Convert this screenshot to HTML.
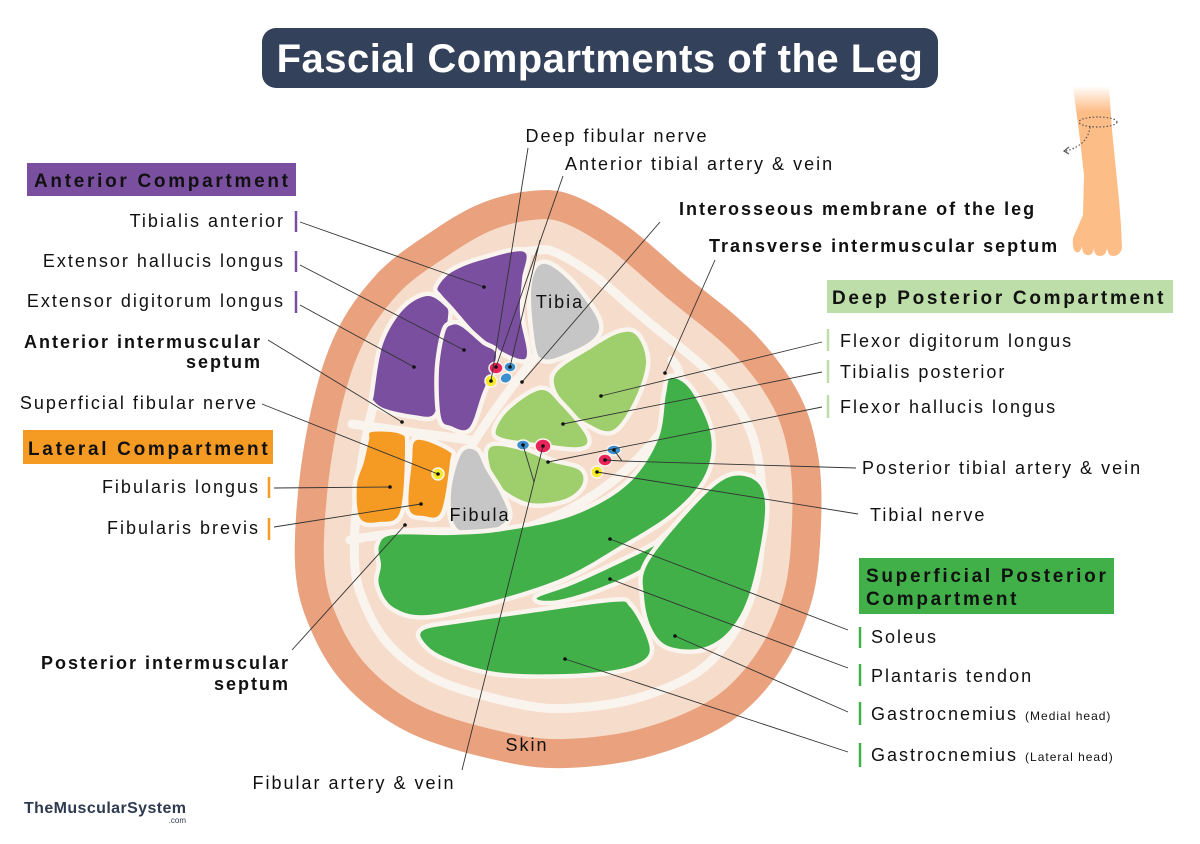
<!DOCTYPE html>
<html><head><meta charset="utf-8"><style>
html,body{margin:0;padding:0;background:#fff;}
svg{display:block;}
text{font-family:"Liberation Sans",Arial,sans-serif;}
.l{font-size:18px;letter-spacing:2px;fill:#111;}
.b{font-size:18px;letter-spacing:2px;font-weight:bold;fill:#111;}
.h{font-size:19px;letter-spacing:2.7px;font-weight:bold;fill:#111;}
.ln{stroke:#333;stroke-width:0.9;fill:none;}
</style></head><body>
<svg id="s" width="1200" height="844" viewBox="0 0 1200 844" xmlns="http://www.w3.org/2000/svg">
<defs>
<clipPath id="cp"><path id="skinclip"/></clipPath>
<linearGradient id="lg" x1="0" y1="0" x2="0" y2="1"><stop offset="0" stop-color="#FDBD87" stop-opacity="0"/><stop offset="0.15" stop-color="#FDBD87"/><stop offset="1" stop-color="#FDBD87"/></linearGradient>
</defs>
<rect x="262" y="28" width="676" height="60" rx="14" fill="#33425A"/>
<text x="600" y="72" text-anchor="middle" style="font-size:40px;font-weight:bold;fill:#fff;letter-spacing:0.5px">Fascial Compartments of the Leg</text>

<g clip-path="url(#cp)">
  <path class="skin" fill="#F6DCCB"/>
  <path class="skin" fill="none" stroke="#FAF4EE" stroke-width="128"/>
  <path class="skin" fill="none" stroke="#F6DCCB" stroke-width="110"/>
  <path class="skin" fill="none" stroke="#E9A17E" stroke-width="58"/>
</g>
<g id="septa" stroke="#FAF4EE" stroke-width="9" fill="none" stroke-linecap="round">
  <path d="M352,424 Q410,432 470,440"/>
  <path d="M350,540 Q400,530 452,532"/>
  <path d="M536,356 Q500,400 470,448"/>
  <path d="M470,542 Q600,520 670,420 Q690,380 672,360"/>
  <path d="M540,600 Q620,560 680,560"/>
</g>
<g id="muscles" stroke="#FAF4EE" stroke-width="9" stroke-linejoin="round"></g>

<g stroke="#FAF4EE" stroke-width="1.5">
<ellipse cx="496" cy="368" rx="7" ry="6" fill="#E8245A"/>
<ellipse cx="510" cy="367" rx="6" ry="5" fill="#3A8FD0"/>
<circle cx="491" cy="381" r="6" fill="#F6EA2A"/>
<ellipse cx="506" cy="378" rx="6" ry="5" fill="#3A8FD0" transform="rotate(-25 506 378)"/>
<ellipse cx="523" cy="445" rx="6.5" ry="5" fill="#3A8FD0"/>
<ellipse cx="543" cy="446" rx="8" ry="7" fill="#E8245A"/>
<ellipse cx="614" cy="450" rx="7" ry="5" fill="#3A8FD0"/>
<ellipse cx="605" cy="460" rx="7" ry="6" fill="#E8245A"/>
<circle cx="597" cy="472" r="6" fill="#F6EA2A"/>
<circle cx="438" cy="474" r="6" fill="#F6EA2A"/>
</g>

<text x="560" y="308" text-anchor="middle" class="l">Tibia</text>
<text x="480" y="521" text-anchor="middle" class="l">Fibula</text>
<text x="527" y="751" text-anchor="middle" class="l">Skin</text>

<g class="ln">
<path d="M300,222 L484,287"/>
<path d="M300,265 L464,350"/>
<path d="M300,305 L414,367"/>
<path d="M268,340 L402,422"/>
<path d="M262,404 L438,474"/>
<path d="M274,488 L390,487"/>
<path d="M274,527 L421,504"/>
<path d="M292,650 L405,525"/>
<path d="M462,770 L534,482 L543,446 M534,482 L523,445"/>
<path d="M528,148 L491,381"/>
<path d="M563,176 L496,367 M540,240 L510,367"/>
<path d="M660,222 L522,382"/>
<path d="M715,260 L665,373"/>
<path d="M822,342 L601,396"/>
<path d="M822,372 L563,424"/>
<path d="M822,407 L548,462"/>
<path d="M856,468 L622,461 L614,450 M622,461 L605,460"/>
<path d="M858,514 L597,472"/>
<path d="M848,630 L610,539"/>
<path d="M848,668 L610,579"/>
<path d="M848,712 L675,636"/>
<path d="M848,752 L565,659"/>
</g>
<g fill="#111">
<circle cx="484" cy="287" r="1.8"/><circle cx="464" cy="350" r="1.8"/><circle cx="414" cy="367" r="1.8"/>
<circle cx="402" cy="422" r="1.8"/><circle cx="438" cy="474" r="1.8"/><circle cx="390" cy="487" r="1.8"/>
<circle cx="421" cy="504" r="1.8"/><circle cx="405" cy="525" r="1.8"/><circle cx="543" cy="446" r="1.8"/>
<circle cx="523" cy="445" r="1.8"/><circle cx="491" cy="381" r="1.8"/><circle cx="496" cy="367" r="1.8"/>
<circle cx="510" cy="367" r="1.8"/><circle cx="522" cy="382" r="1.8"/><circle cx="665" cy="373" r="1.8"/>
<circle cx="601" cy="396" r="1.8"/><circle cx="563" cy="424" r="1.8"/><circle cx="548" cy="462" r="1.8"/>
<circle cx="614" cy="450" r="1.8"/><circle cx="605" cy="460" r="1.8"/><circle cx="597" cy="472" r="1.8"/>
<circle cx="610" cy="539" r="1.8"/><circle cx="610" cy="579" r="1.8"/><circle cx="675" cy="636" r="1.8"/>
<circle cx="565" cy="659" r="1.8"/>
</g>

<rect x="27" y="163" width="269" height="33" fill="#7A4F9F"/>
<text x="34" y="187" class="h">Anterior Compartment</text>
<rect x="23" y="430" width="250" height="34" fill="#F59B23"/>
<text x="28" y="455" class="h">Lateral Compartment</text>
<rect x="827" y="280" width="346" height="33" fill="#BDDDA9"/>
<text x="832" y="304" class="h">Deep Posterior Compartment</text>
<rect x="859" y="558" width="255" height="56" fill="#41B049"/>
<text x="866" y="582" class="h">Superficial Posterior</text>
<text x="866" y="605" class="h">Compartment</text>

<g stroke-width="2.5">
<line x1="296" y1="211" x2="296" y2="232" stroke="#7A4F9F"/>
<line x1="296" y1="251" x2="296" y2="272" stroke="#7A4F9F"/>
<line x1="296" y1="291" x2="296" y2="313" stroke="#7A4F9F"/>
<line x1="269" y1="477" x2="269" y2="498" stroke="#F59B23"/>
<line x1="269" y1="518" x2="269" y2="540" stroke="#F59B23"/>
<line x1="828" y1="329" x2="828" y2="351" stroke="#BDDDA9"/>
<line x1="828" y1="360" x2="828" y2="383" stroke="#BDDDA9"/>
<line x1="828" y1="395" x2="828" y2="418" stroke="#BDDDA9"/>
<line x1="860" y1="627" x2="860" y2="648" stroke="#41B049"/>
<line x1="860" y1="664" x2="860" y2="686" stroke="#41B049"/>
<line x1="860" y1="702" x2="860" y2="725" stroke="#41B049"/>
<line x1="860" y1="743" x2="860" y2="767" stroke="#41B049"/>
</g>

<g text-anchor="end">
<text x="285" y="227" class="l">Tibialis anterior</text>
<text x="285" y="267" class="l">Extensor hallucis longus</text>
<text x="285" y="307" class="l">Extensor digitorum longus</text>
<text x="262" y="348" class="b">Anterior intermuscular</text>
<text x="262" y="368" class="b">septum</text>
<text x="258" y="409" class="l">Superficial fibular nerve</text>
<text x="260" y="493" class="l">Fibularis longus</text>
<text x="260" y="534" class="l">Fibularis brevis</text>
<text x="290" y="669" class="b">Posterior intermuscular</text>
<text x="290" y="690" class="b">septum</text>
</g>
<text x="617" y="142" text-anchor="middle" class="l">Deep fibular nerve</text>
<text x="565" y="170" class="l">Anterior tibial artery &amp; vein</text>
<text x="679" y="215" class="b">Interosseous membrane of the leg</text>
<text x="709" y="252" class="b">Transverse intermuscular septum</text>
<text x="840" y="347" class="l">Flexor digitorum longus</text>
<text x="840" y="378" class="l">Tibialis posterior</text>
<text x="840" y="413" class="l">Flexor hallucis longus</text>
<text x="862" y="474" class="l">Posterior tibial artery &amp; vein</text>
<text x="870" y="521" class="l">Tibial nerve</text>
<text x="871" y="643" class="l">Soleus</text>
<text x="871" y="682" class="l">Plantaris tendon</text>
<text x="871" y="720" class="l">Gastrocnemius <tspan style="font-size:12px;letter-spacing:1px">(Medial head)</tspan></text>
<text x="871" y="761" class="l">Gastrocnemius <tspan style="font-size:12px;letter-spacing:1px">(Lateral head)</tspan></text>
<text x="354" y="789" text-anchor="middle" class="l">Fibular artery &amp; vein</text>

<text x="24" y="813" style="font-size:16px;font-weight:bold;fill:#2E3A50;letter-spacing:0.4px">TheMuscularSystem</text>
<text x="186" y="823" text-anchor="end" style="font-size:8px;fill:#2E3A50">.com</text>

<path d="M1073,86 L1109,86 L1112,130 L1116,170 L1119,200 L1121,225 L1122,248 Q1120,256 1113,256 Q1108,256 1107,248 Q1106,256 1100,256 Q1094,256 1094,248 Q1093,256 1087,255 Q1082,254 1082,246 Q1080,254 1076,252 Q1072,250 1073,238 L1083,215 L1084,175 L1080,140 Z" fill="url(#lg)"/>
<ellipse cx="1098" cy="122" rx="19" ry="5" fill="none" stroke="#555" stroke-width="1.2" stroke-dasharray="1.5 2"/>
<path d="M1090,127 Q1088,145 1066,151" fill="none" stroke="#555" stroke-width="1.2" stroke-dasharray="1.5 2"/>
<path d="M1069,147 L1064,151 L1069,154" fill="none" stroke="#555" stroke-width="1.2"/>
</svg>
<script>
function sm(p){var n=p.length,d="M"+p[0][0]+","+p[0][1];for(var i=0;i<n;i++){var a=p[(i-1+n)%n],b=p[i],c=p[(i+1)%n],e=p[(i+2)%n];
d+=" C"+(b[0]+(c[0]-a[0])/6).toFixed(1)+","+(b[1]+(c[1]-a[1])/6).toFixed(1)+" "+(c[0]-(e[0]-b[0])/6).toFixed(1)+","+(c[1]-(e[1]-b[1])/6).toFixed(1)+" "+c[0]+","+c[1];}return d+"Z";}
var skin=[[295,562],[304,447],[331,344],[376,275],[434,230],[482,203],[531,191],[572,195],[627,226],[685,275],[754,333],[799,394],[818,455],[821,523],[812,600],[781,669],[730,722],[651,756],[565,768],[496,760],[410,733],[348,688],[311,630]];
var sd=sm(skin);document.getElementById("skinclip").setAttribute("d",sd);
document.querySelectorAll(".skin").forEach(function(e){e.setAttribute("d",sd);});
var M=[
["#7A4F9F",[[438,287],[452,272],[482,260],[524,252],[522,279],[520,314],[527,352],[520,359],[496,348],[476,333],[452,306],[441,294]]],
["#7A4F9F",[[374,394],[383,344],[403,310],[427,296],[445,306],[448,317],[441,356],[438,394],[433,415],[414,415],[386,409],[374,401]]],
["#7A4F9F",[[452,325],[462,327],[482,344],[496,356],[482,394],[469,428],[451,426],[441,417],[439,371],[445,333]]],
["#C6C6C6",[[537,268],[551,266],[575,287],[598,321],[592,340],[561,356],[544,359],[536,348],[531,295]]],
["#9ECF6C",[[555,375],[592,348],[620,333],[637,336],[646,363],[634,401],[613,430],[589,424],[565,405]]],
["#9ECF6C",[[496,430],[510,409],[541,390],[561,405],[586,436],[579,447],[537,443],[503,438]]],
["#9ECF6C",[[491,447],[524,451],[551,462],[579,470],[582,485],[565,499],[531,503],[503,489],[491,470]]],
["#C6C6C6",[[462,453],[476,451],[486,470],[500,493],[508,516],[493,529],[462,531],[452,516],[452,485]]],
["#F59B23",[[372,432],[400,434],[405,447],[400,512],[379,522],[360,518],[357,485],[364,462],[369,440]]],
["#F59B23",[[417,440],[448,451],[450,462],[441,512],[424,516],[409,508],[412,462]]],
["#41B049",[[379,546],[393,535],[452,535],[503,531],[572,516],[627,485],[658,440],[666,394],[671,378],[689,388],[708,424],[711,455],[699,485],[668,516],[620,546],[565,577],[496,600],[427,615],[393,607],[379,585],[381,565]]],
["#41B049",[[537,598],[572,585],[616,565],[654,546],[670,533],[666,546],[641,569],[599,588],[558,600]]],
["#41B049",[[644,596],[647,565],[685,516],[720,482],[744,476],[762,489],[764,524],[750,592],[730,630],[702,648],[668,646],[651,627]]],
["#41B049",[[424,630],[462,623],[531,613],[613,602],[630,607],[647,638],[647,657],[620,669],[565,674],[496,672],[445,657],[424,642]]]
];
var g=document.getElementById("muscles"),ns="http://www.w3.org/2000/svg";
M.forEach(function(m){var p=document.createElementNS(ns,"path");p.setAttribute("d",sm(m[1]));p.setAttribute("fill",m[0]);p.setAttribute("paint-order","stroke");g.appendChild(p);});
</script>
</body></html>
